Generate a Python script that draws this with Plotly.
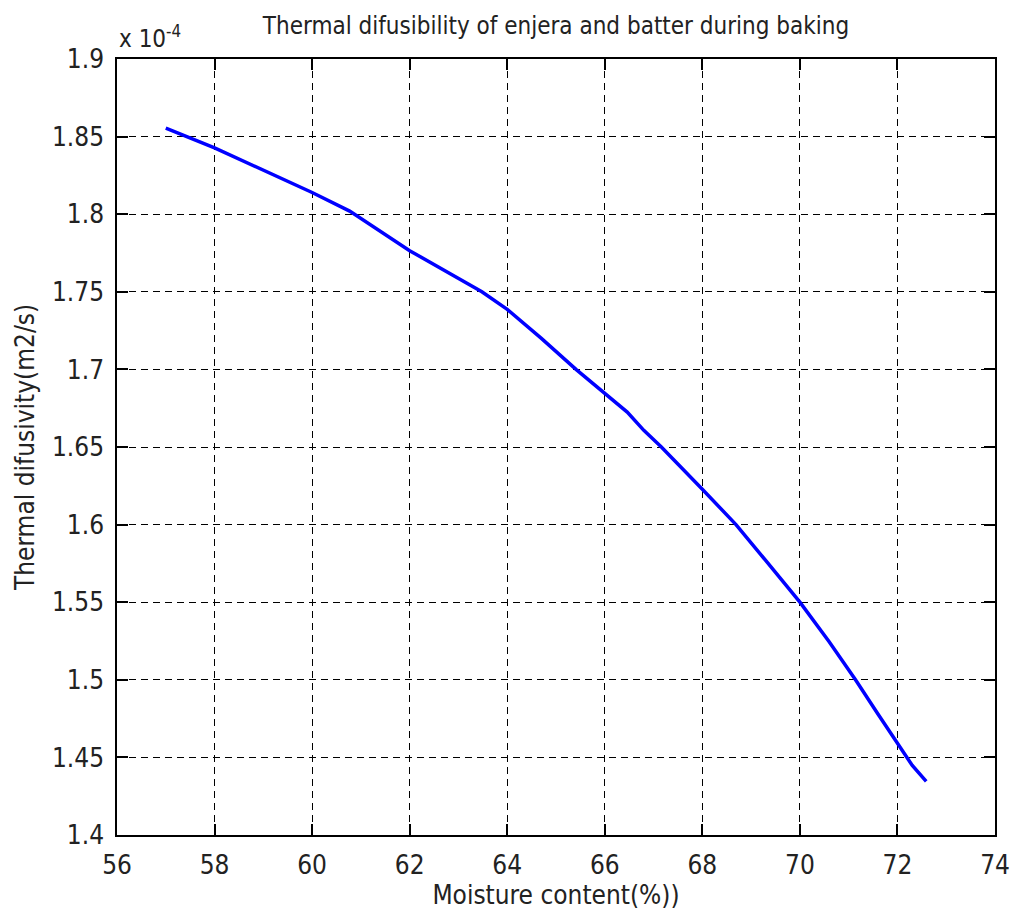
import plotly.graph_objects as go

# Moisture content (%) and thermal diffusivity (x 10^-4 m2/s)
moisture = [57.0, 58.0, 60.0, 60.77, 62.0, 63.48, 64.0, 64.7, 65.41, 66.0, 66.46, 66.8,
            67.16, 68.0, 68.69, 69.34, 70.0, 70.6, 71.14, 71.6, 72.0, 72.3, 72.59]
diffusivity = [1.8555, 1.8427, 1.8140, 1.8020, 1.7765, 1.750, 1.7387, 1.7200, 1.700,
               1.6843, 1.6725, 1.6607, 1.650, 1.6228, 1.600, 1.5753, 1.550, 1.5245,
               1.500, 1.478, 1.459, 1.445, 1.4345]

x_ticks = [56, 58, 60, 62, 64, 66, 68, 70, 72, 74]
y_ticks = [1.4, 1.45, 1.5, 1.55, 1.6, 1.65, 1.7, 1.75, 1.8, 1.85, 1.9]
y_tick_text = ["1.4", "1.45", "1.5", "1.55", "1.6", "1.65", "1.7", "1.75", "1.8", "1.85", "1.9"]

FONT = "Liberation Sans Narrow, Arial Narrow, DejaVu Sans Condensed, Liberation Sans, Arial, sans-serif"

fig = go.Figure()
fig.add_trace(go.Scatter(
    x=moisture, y=diffusivity, mode="lines",
    line=dict(color="#0000ff", width=3.5),
    showlegend=False,
))

axis_common = dict(
    showline=True, linecolor="black", linewidth=1.5, mirror="ticks",
    ticks="inside", ticklen=11, tickwidth=1.5, tickcolor="black",
    showgrid=True, gridcolor="black", gridwidth=1.3, griddash="7px,5px",
    zeroline=False, automargin=False,
    tickfont=dict(family=FONT, size=26, color="#222222"),
)

fig.update_xaxes(
    range=[56, 74], tickvals=x_ticks,
    title=dict(text="Moisture content(%))", font=dict(family=FONT, size=26, color="#222222"), standoff=6),
    ticklabelstandoff=6,
    **axis_common,
)
fig.update_yaxes(
    range=[1.4, 1.9], tickvals=y_ticks, ticktext=y_tick_text,
    title=dict(text="Thermal difusivity(m2/s)", font=dict(family=FONT, size=26, color="#222222"), standoff=10),
    ticklabelstandoff=6,
    **axis_common,
)

fig.add_annotation(
    text="x 10<sup>-4</sup>", xref="paper", yref="paper", x=0.0, y=1.0,
    xanchor="left", yanchor="bottom", showarrow=False, yshift=4,
    font=dict(family=FONT, size=24, color="#222222"),
)

fig.update_layout(
    width=1011, height=918,
    margin=dict(l=117, r=16, t=59, b=83),
    paper_bgcolor="white", plot_bgcolor="white",
    title=dict(text="Thermal difusibility of enjera and batter during baking",
               x=0.5, xref="paper", xanchor="center", y=0.972, yanchor="middle",
               font=dict(family=FONT, size=24, color="#222222")),
)

fig.write_html("out.html")
